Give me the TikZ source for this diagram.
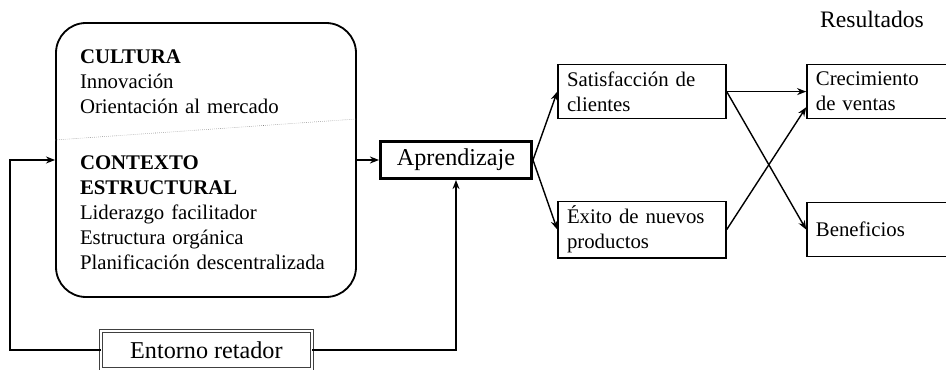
\documentclass[tikz,border=0pt]{standalone}
\usepackage{fontspec}
\setmainfont{Liberation Serif}
\usetikzlibrary{arrows.meta}

\begin{document}
\begin{tikzpicture}[
    txt/.style={font=\fontsize{14.8}{17.8}\selectfont},
    bigbox/.style={rectangle, draw, line width=1.3pt, rounded corners=0.75cm, txt, align=left, text width=6.3cm, inner xsep=0.6cm, minimum height=6.85cm},
    learnbox/.style={rectangle, draw, line width=2.1pt, minimum width=3.775cm, minimum height=0.925cm, font=\fontsize{17.2}{20}\selectfont},
    envbox/.style={rectangle, draw=black!75, double, double distance=1.4pt, line width=0.5pt, minimum width=5.275cm, minimum height=0.95cm, fill=white, font=\fontsize{17.2}{20}\selectfont},
    outbox/.style={rectangle, draw, line width=1pt, txt, align=left, inner xsep=0.225cm, minimum height=1.35cm},
    arrow/.style={-{Stealth[length=6.5pt,width=5pt]}, line width=1pt}
]
\useasboundingbox (0,0) rectangle (23.65,-9.25);

% Organisation
\node[bigbox] (org) at (5.15, -4.0) {\textbf{CULTURA}\\ Innovación\\ Orientación al mercado\\[0.775cm]
    \textbf{CONTEXTO}\\ \textbf{ESTRUCTURAL}\\ Liderazgo facilitador\\ Estructura orgánica\\ Planificación descentralizada};
\draw[gray, densely dotted, thin] ([yshift=0.5cm]org.west) -- ([yshift=1.025cm]org.east);

% Learning and environment
\node[learnbox] (apr) at (11.4, -4.0) {Aprendizaje};
\node[envbox] (ent) at (5.16, -8.75) {Entorno retador};
\coordinate (fbl) at (0.25, -8.75);

% Intermediate outcomes
\node[outbox, text width=3.75cm] (sat) at (16.05, -2.29) {Satisfacción de\\ clientes};
\node[outbox, text width=3.75cm] (exi) at (16.05, -5.74) {Éxito de nuevos\\ productos};

% Results
\node[txt, font=\fontsize{16.8}{19}\selectfont, anchor=base west] (res) at (20.38, -0.69) {Resultados};
\node[outbox, text width=3.125cm] (cre) at (21.96, -2.29) {Crecimiento\\ de ventas};
\node[outbox, text width=3.125cm] (ben) at (21.96, -5.74) {Beneficios};

% Arrows
\draw[arrow] (org) -- (apr);
\draw[arrow] (ent.west) -- (fbl) |- (org.west);
\draw[arrow] (ent.east) -| (apr.south);
\draw[arrow] (apr.east) -- (sat.west);
\draw[arrow] (apr.east) -- (exi.west);
\draw[arrow] (sat.east) -- (cre.west);
\draw[arrow] (sat.east) -- (ben.west);
\draw[arrow] (exi.east) -- ([yshift=-0.39cm]cre.west);

\end{tikzpicture}
\end{document}
